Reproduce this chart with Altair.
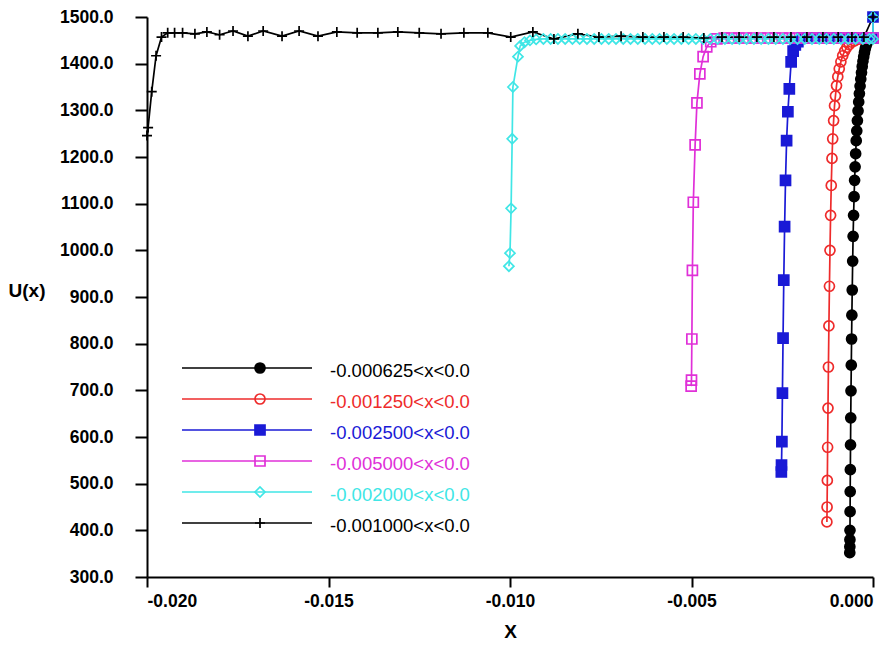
import altair as alt
import pandas as pd

names = ["-0.000625<x<0.0", "-0.001250<x<0.0", "-0.002500<x<0.0",
         "-0.005000<x<0.0", "-0.002000<x<0.0", "-0.001000<x<0.0"]
colors = ["#000000", "#ee2b2b", "#1a1ad6", "#e030d8", "#40e6e6", "#000000"]
fills = ["#000000", "transparent", "#1a1ad6", "transparent", "transparent", "transparent"]
shapes = ["circle", "circle", "square", "square", "diamond", "M-1,0L1,0M0,-1L0,1"]

# black filled circles
s1_x = [-0.000640, -0.000638, -0.000636, -0.000634, -0.000631, -0.000628, -0.000624, -0.000619,
        -0.000613, -0.000606, -0.000598, -0.000590, -0.000582, -0.000572, -0.000560, -0.000548,
        -0.000535, -0.000521, -0.000507, -0.000493, -0.000478, -0.000462, -0.000447, -0.000430,
        -0.000412, -0.000394, -0.000375, -0.000356, -0.000337, -0.000317, -0.000297, -0.000277,
        -0.000256, -0.000235, -0.000213, -0.000190, -0.000166, -0.000141, -0.000115, -0.000088,
        -0.000060, -0.000030, 0.0]
s1_u = [352, 365, 380, 400, 440, 483, 530, 583, 641, 699, 754, 810, 861, 915, 977, 1030,
        1075, 1115, 1150, 1179, 1207, 1235, 1256, 1278, 1299, 1318, 1336, 1352, 1367, 1381, 1394, 1405,
        1415, 1424, 1432, 1439, 1444, 1448, 1451, 1453, 1455, 1455, 1455]

# red open circles
s2_x = [-0.001270, -0.001265, -0.001258, -0.001250, -0.001240, -0.001228, -0.001215, -0.001200,
        -0.001185, -0.001168, -0.001150, -0.001130, -0.001110, -0.001085, -0.001060, -0.001035,
        -0.001005, -0.000970, -0.000930, -0.000885, -0.000835, -0.000780, -0.000720, -0.000655,
        -0.000585, -0.000510, -0.000430, -0.000345, -0.000255, -0.000160, -0.000080, 0.0]
s2_u = [418, 450, 507, 578, 662, 750, 838, 923, 1000, 1075, 1139, 1197, 1239, 1278, 1310, 1331,
        1353, 1372, 1389, 1404, 1417, 1427, 1435, 1441, 1446, 1449, 1452, 1453, 1454, 1455, 1455, 1455]

# blue filled squares
s3_x = [-0.002525, -0.002520, -0.002510, -0.002495, -0.002478, -0.002458, -0.002435, -0.002410,
        -0.002380, -0.002345, -0.002305, -0.002255, -0.002200, -0.002140, -0.002070,
        -0.001950, -0.001750, -0.001550, -0.001350, -0.001150, -0.000950, -0.000750, -0.000550,
        -0.000350, -0.000150, 0.0, 0.0]
s3_u = [525, 540, 590, 694, 812, 936, 1051, 1150, 1235, 1297, 1346, 1404, 1427, 1440, 1447,
        1455, 1455, 1455, 1455, 1455, 1455, 1455, 1455, 1455, 1455, 1455, 1500]

# magenta open squares
s4_x = [-0.005010, -0.005000, -0.004990, -0.004975, -0.004950, -0.004900, -0.004850, -0.004770,
        -0.004680, -0.004580, -0.004470, -0.004300, -0.004100, -0.003900, -0.003700, -0.003500,
        -0.003300, -0.003100, -0.002900, -0.002700, -0.002500, -0.002300, -0.002100, -0.001900,
        -0.001700, -0.001500, -0.001300, -0.001100, -0.000900, -0.000700, -0.000500, -0.000300,
        -0.000100, 0.0]
s4_u = [709, 722, 810, 957, 1103, 1226, 1316, 1378, 1415, 1436, 1447, 1453, 1455, 1455, 1455, 1455,
        1455, 1455, 1455, 1455, 1455, 1455, 1455, 1455, 1455, 1455, 1455, 1455, 1455, 1455, 1455, 1455,
        1455, 1455]

# cyan open diamonds
s5_x = [-0.010030, -0.010000, -0.009970, -0.009940, -0.009920, -0.009780, -0.009720, -0.009600,
        -0.009450, -0.009280, -0.009080, -0.008880, -0.008680, -0.008480, -0.008280, -0.008080,
        -0.007880, -0.007680, -0.007480, -0.007280, -0.007080, -0.006880, -0.006680, -0.006480,
        -0.006280, -0.006080, -0.005880, -0.005680, -0.005480, -0.005280, -0.005080, -0.004880,
        -0.004680, -0.004480, -0.004280, -0.004080, -0.003880, -0.003680, -0.003480, -0.003280,
        -0.003080, -0.002880, -0.002680, -0.002480, -0.002280, -0.002080, -0.001880, -0.001680,
        -0.001480, -0.001280, -0.001080, -0.000880, -0.000680, -0.000480, -0.000280, -0.000100,
        0.0, 0.0]
s5_u = [966, 994, 1090, 1239, 1350, 1415, 1438, 1446, 1450, 1452, 1453, 1453, 1453, 1453, 1453, 1453,
        1453, 1453, 1453, 1453, 1453, 1453, 1453, 1453, 1453, 1453, 1453, 1453, 1453, 1453, 1453, 1453,
        1453, 1453, 1453, 1453, 1453, 1453, 1453, 1453, 1453, 1453, 1453, 1453, 1453, 1453, 1453, 1453,
        1453, 1453, 1453, 1453, 1453, 1453, 1453, 1453, 1453, 1500]

# black plus
s6_x = [-0.02000, -0.01997, -0.01987, -0.01975, -0.01960, -0.01943, -0.01924, -0.01902,
        -0.01868, -0.01835, -0.01800, -0.01763, -0.01722, -0.01680, -0.01628, -0.01581,
        -0.01529, -0.01477, -0.01421, -0.01364, -0.01309, -0.01250, -0.01190, -0.01127,
        -0.01061, -0.00998, -0.00937, -0.00879, -0.00813, -0.00755, -0.00694, -0.00634,
        -0.00576, -0.00523, -0.00466, -0.00416, -0.00369, -0.00320, -0.00273, -0.00226,
        -0.00182, -0.00138, -0.00096, -0.00058, -0.00025, 0.0]
s6_u = [1246, 1263, 1340, 1417, 1457, 1466, 1466, 1466, 1464, 1468, 1462, 1470, 1459, 1470, 1459, 1470,
        1459, 1468, 1466, 1466, 1468, 1466, 1464, 1466, 1466, 1457, 1468, 1453, 1464, 1457, 1459, 1457,
        1457, 1457, 1455, 1457, 1457, 1457, 1457, 1457, 1457, 1457, 1457, 1457, 1457, 1500]

x_ticks = [-0.020, -0.015, -0.010, -0.005, 0.0]
y_ticks = [300, 400, 500, 600, 700, 800, 900, 1000, 1100, 1200, 1300, 1400, 1500]

series = [(s1_x, s1_u), (s2_x, s2_u), (s3_x, s3_u), (s4_x, s4_u), (s5_x, s5_u), (s6_x, s6_u)]
rows = []
for name, (xs, us) in zip(names, series):
    for i, (xv, uv) in enumerate(zip(xs, us)):
        rows.append({"series": name, "idx": i, "x": xv, "u": uv})
df = pd.DataFrame(rows)
leg_df = pd.DataFrame({"series": names, "label": names})

color_scale = alt.Scale(domain=names, range=colors)
fill_scale = alt.Scale(domain=names, range=fills)
shape_scale = alt.Scale(domain=names, range=shapes)

FONT = "Liberation Sans"

x_enc = alt.X("x:Q", scale=alt.Scale(domain=[-0.02, 0.0], nice=False, zero=False),
              axis=alt.Axis(values=x_ticks, title="X", tickSize=10, labelPadding=5, titlePadding=13,
                            labelExpr="datum.value < 0 ? '-' + format(-datum.value, '.3f') : format(datum.value, '.3f')"))
y_enc = alt.Y("u:Q", scale=alt.Scale(domain=[300, 1500], nice=False, zero=False),
              axis=alt.Axis(values=y_ticks, format=".1f", title="U(x)", tickSize=12, labelPadding=22,
                            titleAngle=0, titleX=-102, titleY=273, titleAlign="right",
                            titleBaseline="middle"))

lines = alt.Chart(df).mark_line(strokeWidth=1.7).encode(
    x=x_enc, y=y_enc,
    color=alt.Color("series:N", scale=color_scale, legend=None),
    order=alt.Order("idx:Q"),
)
points = alt.Chart(df).mark_point(size=100, strokeWidth=1.7, opacity=1).encode(
    x=x_enc, y=y_enc,
    shape=alt.Shape("series:N", scale=shape_scale, legend=None),
    stroke=alt.Stroke("series:N", scale=color_scale, legend=None),
    fill=alt.Fill("series:N", scale=fill_scale, legend=None),
)
main = alt.layer(lines, points)

leg_y = alt.Y("series:N", scale=alt.Scale(type="point", domain=names, range=[351, 506], padding=0), axis=None)
leg_rule = alt.Chart(leg_df).mark_rule(strokeWidth=1.7).encode(
    x=alt.value(35), x2=alt.value(165), y=leg_y,
    color=alt.Color("series:N", scale=color_scale, legend=None),
)
leg_pts = alt.Chart(leg_df).mark_point(size=100, strokeWidth=1.7, opacity=1).encode(
    x=alt.value(113), y=leg_y,
    shape=alt.Shape("series:N", scale=shape_scale, legend=None),
    stroke=alt.Stroke("series:N", scale=color_scale, legend=None),
    fill=alt.Fill("series:N", scale=fill_scale, legend=None),
)
leg_txt = alt.Chart(leg_df).mark_text(align="left", baseline="middle", dy=3, fontSize=18.5, font=FONT).encode(
    x=alt.value(183), y=leg_y, text="label:N",
    color=alt.Color("series:N", scale=color_scale, legend=None),
)
legend = alt.layer(leg_rule, leg_pts, leg_txt)

chart = alt.layer(main, legend).resolve_scale(y="independent").properties(
    width=726, height=560,
    padding={"left": 0, "top": 0, "right": 0, "bottom": 0},
    background="white",
).configure_view(stroke=None).configure_axis(
    grid=False, domainColor="black", domainWidth=2, tickColor="black", tickWidth=2,
    labelFont=FONT, labelFontWeight="bold", labelFontSize=17.5, labelColor="black",
    titleFont=FONT, titleFontWeight="bold", titleFontSize=19, titleColor="black",
)

chart.save("out.html", embed_options={"renderer": "svg", "actions": False})
